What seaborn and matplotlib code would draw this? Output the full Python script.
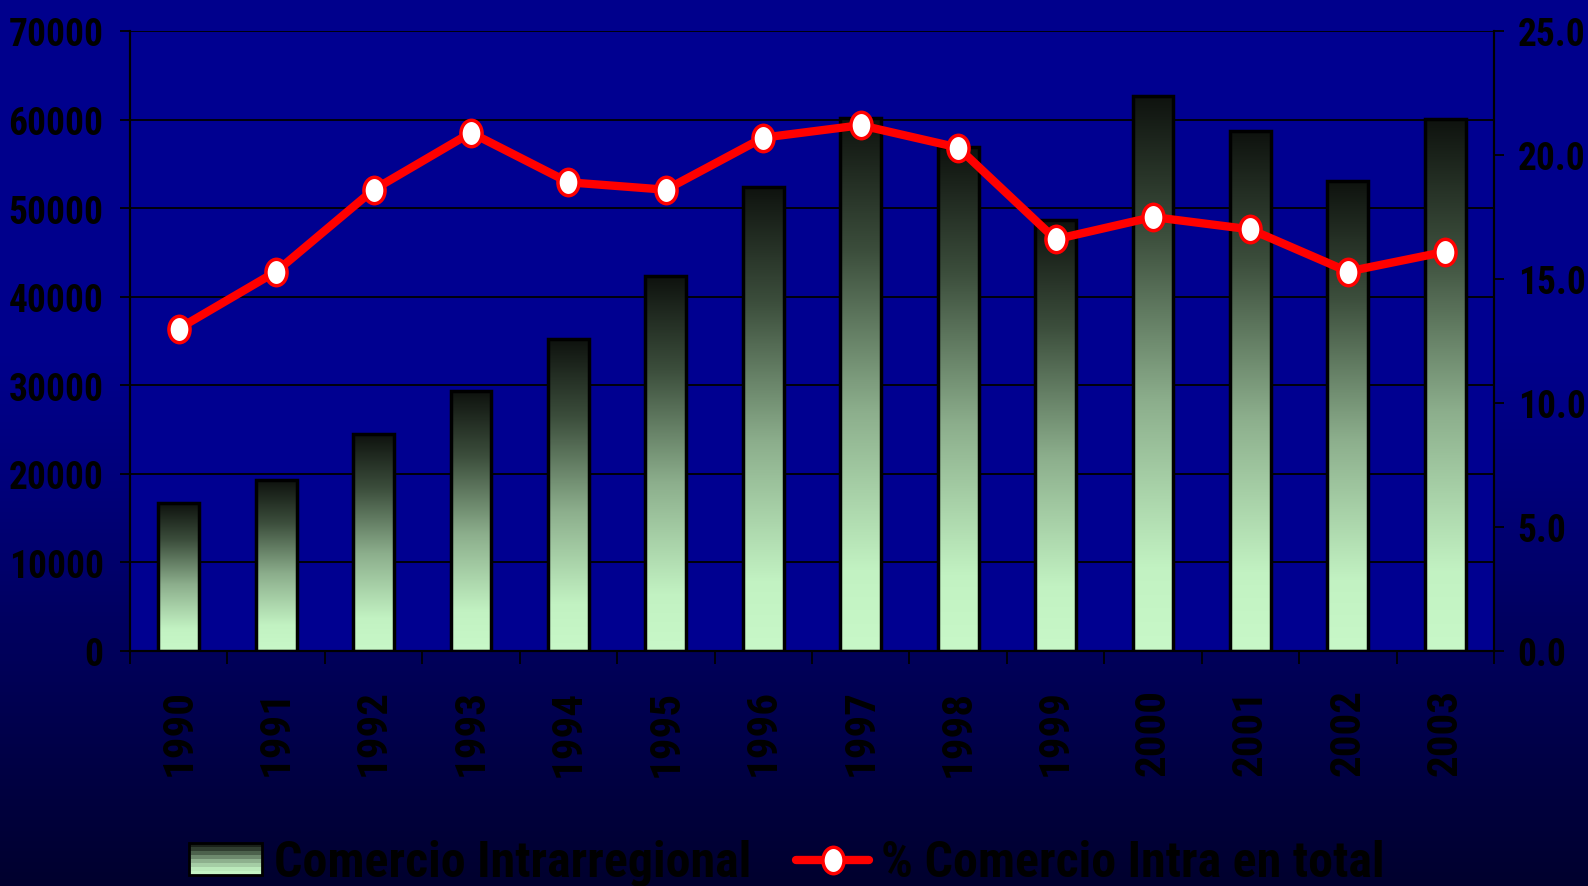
import numpy as np
import pandas as pd
import seaborn as sns
import matplotlib.pyplot as plt
from matplotlib.colors import LinearSegmentedColormap
from matplotlib.lines import Line2D
from matplotlib.patches import Rectangle
from matplotlib.path import Path
from matplotlib.transforms import Affine2D
from matplotlib.legend_handler import HandlerBase

YEARS = ["1990", "1991", "1992", "1993", "1994", "1995", "1996",
         "1997", "1998", "1999", "2000", "2001", "2002", "2003"]
TRADE = [16700, 19300, 24500, 29300, 35200, 42300, 52400,
         60200, 56900, 48700, 62700, 58700, 53100, 60100]
SHARE = [13.0, 15.3, 18.6, 20.9, 18.9, 18.6, 20.7,
         21.2, 20.3, 16.6, 17.5, 17.0, 15.3, 16.1]
LABELS = ["Comercio Intrarregional", "% Comercio Intra en total"]

FONTS = ["Roboto Condensed", "Fira Sans Condensed", "DejaVu Sans"]
W, H = 1588, 887

BAR_CMAP = LinearSegmentedColormap.from_list(
    "bar", [(0, "#C8F8C8"), (0.15, "#C2F2C2"), (0.45, "#8CAE8C"),
            (0.75, "#3C4E3C"), (1.0, "#0E120E")])
BG_CMAP = LinearSegmentedColormap.from_list(
    "bg", [(0, "#00002E"), (0.45, "#00007A"), (0.6, "#00008C"), (1.0, "#00008C")])

# ellipse marker, a bit taller than wide
ELLIPSE = Path.unit_circle().transformed(Affine2D().scale(0.8, 1.0))

df = pd.DataFrame({"year": YEARS, "trade": TRADE, "share": SHARE})

sns.set_theme(style="white")
plt.rcParams["font.family"] = FONTS
plt.rcParams["font.weight"] = "bold"
plt.rcParams["text.color"] = "black"
plt.rcParams["xtick.color"] = "black"
plt.rcParams["ytick.color"] = "black"

fig = plt.figure(figsize=(W / 100, H / 100), dpi=100)

bg = fig.add_axes([0, 0, 1, 1], zorder=-10)
bg.imshow(np.linspace(0, 1, 256).reshape(-1, 1), cmap=BG_CMAP, aspect="auto",
          origin="lower", extent=[0, 1, 0, 1])
bg.axis("off")

ax = fig.add_axes([130 / W, 1 - 652 / H, (1494 - 130) / W, (652 - 32) / H])
ax.set_facecolor("#000090")

sns.barplot(data=df, x="year", y="trade", width=0.42, color="#C8F8C8",
            edgecolor="black", linewidth=2.5, ax=ax, zorder=2)

grad = np.linspace(0, 1, 256).reshape(-1, 1)
for p in ax.patches:
    x0, y0, w, h = p.get_x(), p.get_y(), p.get_width(), p.get_height()
    p.set_facecolor("none")
    p.set_zorder(3)
    im = ax.imshow(grad, cmap=BAR_CMAP, aspect="auto", origin="lower",
                   extent=[x0, x0 + w, y0, y0 + h], zorder=2.5)
    im.set_clip_path(p)

ax.set_ylim(0, 70000)
ax.set_yticks(range(0, 70001, 10000))
ax.yaxis.grid(True, color="black", linewidth=1.3)
ax.set_axisbelow(True)

ax2 = ax.twinx()
sns.pointplot(data=df, x="year", y="share", ax=ax2, color="red",
              errorbar=None, marker=ELLIPSE, linewidth=6, markersize=19,
              markerfacecolor="white", markeredgecolor="red",
              markeredgewidth=2.5)
ax2.set_ylim(0, 25)
ax2.set_yticks(np.arange(0, 25.1, 5))
ax2.set_yticklabels([f"{v:.1f}" for v in np.arange(0, 25.1, 5)])
ax2.grid(False)

ax.set_xlim(-0.5, len(YEARS) - 0.5)
ax.set_xticks(range(len(YEARS)))
ax.set_xticklabels(YEARS, rotation=90, fontsize=31, fontweight="bold")
ax.set_xticks(np.arange(-0.5, len(YEARS), 1), minor=True)
ax.tick_params(axis="x", which="major", length=0, pad=27)
ax.tick_params(axis="x", which="minor", bottom=True, length=9, width=1.3,
               direction="out", color="black")
ax.tick_params(axis="y", left=True, length=7, width=1.3, pad=12,
               labelsize=27, color="black")
ax2.tick_params(axis="y", right=True, length=7, width=1.3, pad=10,
                labelsize=27, color="black")
ax.set_xlabel("")
ax.set_ylabel("")
ax2.set_xlabel("")
ax2.set_ylabel("")

for a in (ax, ax2):
    for side, sp in a.spines.items():
        sp.set_color("black")
        sp.set_linewidth(1.5)
    a.spines["top"].set_visible(False)


class GradientHandler(HandlerBase):
    def create_artists(self, legend, orig_handle, xdescent, ydescent,
                       width, height, fontsize, trans):
        n = 8
        arts = []
        for i in range(n):
            arts.append(Rectangle((-xdescent, -ydescent + height * i / n), width,
                                  height / n, facecolor=BAR_CMAP((i + 0.5) / n),
                                  edgecolor="none", transform=trans))
        arts.append(Rectangle((-xdescent, -ydescent), width, height,
                              facecolor="none", edgecolor="black", linewidth=2,
                              transform=trans))
        return arts


bar_handle = Rectangle((0, 0), 1, 1)
line_handle = Line2D([], [], color="red", linewidth=6, marker=ELLIPSE,
                     markersize=19, markerfacecolor="white",
                     markeredgecolor="red", markeredgewidth=2.5)
fig.legend([bar_handle, line_handle], LABELS, loc="center",
           bbox_to_anchor=(787 / W, 1 - 864 / H), ncol=2, frameon=False,
           prop=dict(family=FONTS, weight="bold", size=36), labelcolor="black",
           handlelength=1.45, handleheight=0.6, handletextpad=0.25,
           columnspacing=0.9, handler_map={Rectangle: GradientHandler()})

fig.savefig("out.png", dpi=100)
